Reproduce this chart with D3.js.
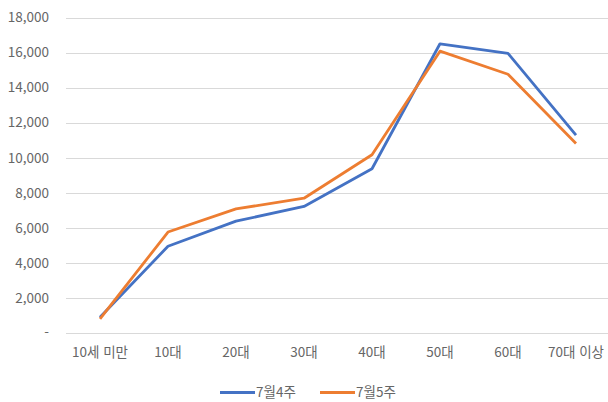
<!DOCTYPE html>
<html lang="ko">
<head>
<meta charset="utf-8">
<title>연령대별</title>
<script src="https://d3js.org/d3.v7.min.js"></script>
<style>
body { margin: 0; background: #fff; }
svg { display: block; }
.axis text { font-family: "Noto Sans CJK KR", "Noto Sans", sans-serif; font-size: 13.5px; fill: #666; }
.axis path { display: none; }
.grid line { stroke: #d9d9d9; stroke-width: 1px; }
.legend text { font-family: "Noto Sans CJK KR", "Noto Sans", sans-serif; font-size: 13.5px; fill: #666; }
</style>
</head>
<body>
<script>
// data
var categories = ["10세 미만", "10대", "20대", "30대", "40대", "50대", "60대", "70대 이상"];
var seriesNames = ["7월4주", "7월5주"];
var week4 = [900, 4950, 6380, 7220, 9370, 16500, 15950, 11290];
var week5 = [800, 5760, 7080, 7690, 10170, 16080, 14760, 10810];
var yTicks = [0, 2000, 4000, 6000, 8000, 10000, 12000, 14000, 16000, 18000];

var colors = ["#4472C4", "#ED7D31"];
var series = [week4, week5];

var width = 608, height = 402;
var margin = {top: 17.5, right: -2, bottom: 69, left: 66};

var svg = d3.select("body").append("svg")
    .attr("width", width)
    .attr("height", height);

var xScale = d3.scaleBand()
    .domain(categories)
    .range([margin.left, width - margin.right]);

var yScale = d3.scaleLinear()
    .domain([0, 18000])
    .range([height - margin.bottom, margin.top]);

// gridlines
svg.append("g")
    .attr("class", "grid")
  .selectAll("line")
  .data(yTicks)
  .enter().append("line")
    .attr("x1", margin.left)
    .attr("x2", width)
    .attr("y1", function(d) { return Math.round(yScale(d)) + 0.5; })
    .attr("y2", function(d) { return Math.round(yScale(d)) + 0.5; });

// y axis
var yAxis = d3.axisLeft(yScale)
    .tickValues(yTicks)
    .tickSize(0)
    .tickPadding(17)
    .tickFormat(function(d) { return d === 0 ? "-" : d3.format(",")(d); });

svg.append("g")
    .attr("class", "y axis")
    .attr("transform", "translate(" + margin.left + ",0)")
    .call(yAxis);

// x axis
var xAxis = d3.axisBottom(xScale).tickSize(0).tickPadding(14);

svg.append("g")
    .attr("class", "x axis")
    .attr("transform", "translate(0," + (height - margin.bottom) + ")")
    .call(xAxis);

// lines
var line = d3.line()
    .x(function(d, i) { return xScale(categories[i]) + xScale.bandwidth() / 2; })
    .y(function(d) { return yScale(d); });

series.forEach(function(s, k) {
  svg.append("path")
      .datum(s)
      .attr("fill", "none")
      .attr("stroke", colors[k])
      .attr("stroke-width", 2.8)
      .attr("stroke-linejoin", "round")
      .attr("d", line);
});

// legend
var legendX = [220, 320];
var legend = svg.append("g").attr("class", "legend");
seriesNames.forEach(function(name, k) {
  legend.append("line")
      .attr("x1", legendX[k]).attr("x2", legendX[k] + 35)
      .attr("y1", 392.5).attr("y2", 392.5)
      .attr("stroke", colors[k])
      .attr("stroke-width", 2.8);
  legend.append("text")
      .attr("x", legendX[k] + 36)
      .attr("y", 392.5)
      .attr("dy", "0.35em")
      .text(name);
});
</script>
</body>
</html>
